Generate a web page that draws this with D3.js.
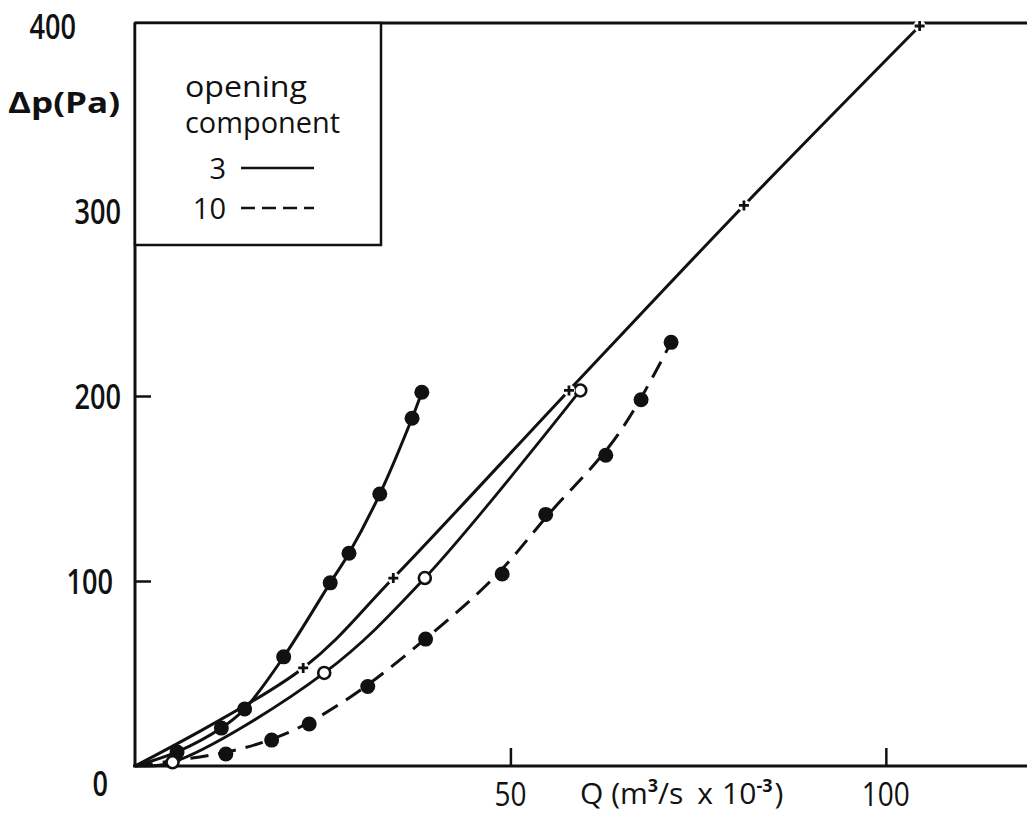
<!DOCTYPE html>
<html>
<head>
<meta charset="utf-8">
<script src="https://cdn.jsdelivr.net/npm/d3@7"></script>
<style>
  body { margin: 0; background: #fff; }
  text { font-family: "Open Sans", "DejaVu Sans", sans-serif; fill: #111; }
</style>
</head>
<body>
<svg></svg>
<script>
const width = 1027;
const height = 815;

// opening component 3, steep curve (filled dots)
const seriesA = [
  [5.6, 7.6], [11.5, 20.5], [14.6, 30.8], [19.8, 59], [26.0, 99],
  [28.5, 115], [32.6, 147], [36.9, 188], [38.2, 202]
];
// opening component 3, crosses
const seriesB = [
  [22.4, 53], [34.4, 101.6], [57.8, 203], [81.1, 303], [104.5, 400]
];
// opening component 3, open circles
const seriesC = [
  [5, 2], [25.2, 50.3], [38.6, 101.6], [59.3, 203]
];
// opening component 10, dashed (filled dots)
const seriesD = [
  [12.1, 6.5], [18.2, 14], [23.2, 22.7], [31.0, 43], [38.7, 68.6],
  [48.9, 103.8], [54.7, 136], [62.7, 168], [67.4, 198], [71.4, 229]
];

const xTicks = [50, 100];
const yTicks = [100, 200, 300];
const yLabels = ["0", "100", "200", "300", "400"];
const legendLabels = ["3", "10"];

const x = d3.scaleLinear().domain([0, 118.8]).range([135, 1027]);
const y = d3.scaleLinear().domain([0, 400]).range([766, 26]);

const svg = d3.select("svg")
    .attr("width", width)
    .attr("height", height);

const ink = "#111";

// frame
svg.append("line")
    .attr("x1", x(0)).attr("x2", width)
    .attr("y1", 23).attr("y2", 23)
    .attr("stroke", ink).attr("stroke-width", 3);
svg.append("line")
    .attr("x1", x(0)).attr("x2", x(0))
    .attr("y1", 23).attr("y2", y(0))
    .attr("stroke", ink).attr("stroke-width", 3);
svg.append("line")
    .attr("x1", x(0) - 2).attr("x2", width)
    .attr("y1", y(0)).attr("y2", y(0))
    .attr("stroke", ink).attr("stroke-width", 3);

// inward ticks
svg.append("g")
    .attr("transform", "translate(" + x(0) + ",0)")
    .call(d3.axisRight(y).tickValues(yTicks).tickSize(16).tickFormat(""))
    .call(g => g.select(".domain").remove())
    .call(g => g.selectAll("line").attr("stroke", ink).attr("stroke-width", 2.5));

svg.append("g")
    .attr("transform", "translate(0," + y(0) + ")")
    .call(d3.axisTop(x).tickValues(xTicks).tickSize(18).tickFormat(""))
    .call(g => g.select(".domain").remove())
    .call(g => g.selectAll("line").attr("stroke", ink).attr("stroke-width", 2.5));

// y labels (narrow, hand-lettered look)
const yLabelX = {"0": 108, "100": 113, "200": 121, "300": 121, "400": 76};
svg.selectAll(".ylab")
  .data(yLabels)
  .enter().append("text")
    .attr("class", "ylab")
    .attr("x", d => yLabelX[d])
    .attr("y", d => d === "0" ? 796 : y(+d) + 13)
    .attr("text-anchor", "end")
    .attr("font-size", 34)
    .attr("font-weight", 600)
    .attr("textLength", d => d.length * 15.5)
    .attr("lengthAdjust", "spacingAndGlyphs")
    .text(d => d);

svg.append("text")
    .attr("x", 8).attr("y", 113)
    .attr("font-size", 28).attr("font-weight", 700)
    .attr("textLength", 112).attr("lengthAdjust", "spacingAndGlyphs")
    .text("Δp(Pa)");

// x labels
svg.selectAll(".xlab")
  .data(xTicks)
  .enter().append("text")
    .attr("class", "xlab")
    .attr("x", d => x(d))
    .attr("y", 806)
    .attr("text-anchor", "middle")
    .attr("font-size", 32)
    .attr("textLength", d => String(d).length * 16)
    .attr("lengthAdjust", "spacingAndGlyphs")
    .text(d => d);

const qLabel = svg.append("text")
    .attr("x", 580).attr("y", 804)
    .attr("font-size", 30);
qLabel.append("tspan").text("Q (m");
qLabel.append("tspan").attr("font-size", 18).attr("font-weight", 700).attr("dy", -12).text("3");
qLabel.append("tspan").attr("dy", 12).text("/s");
qLabel.append("tspan").attr("dx", 14).text("x");
qLabel.append("tspan").attr("dx", 9).text("10");
qLabel.append("tspan").attr("font-size", 18).attr("font-weight", 700).attr("dy", -12).text("-3");
qLabel.append("tspan").attr("dy", 12).attr("dx", 2).text(")");

// legend box
svg.append("rect")
    .attr("x", x(0)).attr("y", 23)
    .attr("width", 246).attr("height", 222)
    .attr("fill", "#fff")
    .attr("stroke", ink).attr("stroke-width", 2.5);

svg.append("text").attr("x", 185).attr("y", 97)
    .attr("font-size", 29)
    .attr("textLength", 122).attr("lengthAdjust", "spacingAndGlyphs")
    .text("opening");
svg.append("text").attr("x", 185).attr("y", 133)
    .attr("font-size", 29)
    .attr("textLength", 155).attr("lengthAdjust", "spacingAndGlyphs")
    .text("component");

svg.selectAll(".leglab")
  .data(legendLabels)
  .enter().append("text")
    .attr("class", "leglab")
    .attr("x", 226)
    .attr("y", (d, i) => 179 + i * 40)
    .attr("text-anchor", "end")
    .attr("font-size", 29)
    .text(d => d);

svg.selectAll(".legline")
  .data(legendLabels)
  .enter().append("line")
    .attr("class", "legline")
    .attr("x1", 241).attr("x2", 314)
    .attr("y1", (d, i) => 168 + i * 40)
    .attr("y2", (d, i) => 168 + i * 40)
    .attr("stroke", ink).attr("stroke-width", 2.5)
    .attr("stroke-dasharray", (d, i) => i === 0 ? null : "14,7");

// curves
const line = d3.line()
    .x(d => x(d[0]))
    .y(d => y(d[1]))
    .curve(d3.curveCatmullRom.alpha(0.5));

const smooth = d3.line()
    .x(d => x(d[0]))
    .y(d => y(d[1]))
    .curve(d3.curveBasis);

const origin = [[0, 0]];

svg.append("path")
    .attr("d", line(origin.concat(seriesA)))
    .attr("fill", "none").attr("stroke", ink).attr("stroke-width", 3);

svg.append("path")
    .attr("d", line(origin.concat(seriesB)))
    .attr("fill", "none").attr("stroke", ink).attr("stroke-width", 3);

svg.append("path")
    .attr("d", line(origin.concat(seriesC)))
    .attr("fill", "none").attr("stroke", ink).attr("stroke-width", 2.8);

svg.append("path")
    .attr("d", smooth(origin.concat(seriesD)))
    .attr("fill", "none").attr("stroke", ink).attr("stroke-width", 3)
    .attr("stroke-dasharray", "18,10");

// markers
svg.selectAll(".dotA")
  .data(seriesA)
  .enter().append("circle")
    .attr("cx", d => x(d[0])).attr("cy", d => y(d[1]))
    .attr("r", 7.5).attr("fill", ink);

svg.selectAll(".dotD")
  .data(seriesD)
  .enter().append("circle")
    .attr("cx", d => x(d[0])).attr("cy", d => y(d[1]))
    .attr("r", 7.5).attr("fill", ink);

svg.selectAll(".openC")
  .data(seriesC)
  .enter().append("circle")
    .attr("cx", d => x(d[0])).attr("cy", d => y(d[1]))
    .attr("r", 6).attr("fill", "#fff")
    .attr("stroke", ink).attr("stroke-width", 2.6);

const cross = svg.selectAll(".crossB")
  .data(seriesB)
  .enter().append("g")
    .attr("transform", d => "translate(" + x(d[0]) + "," + y(d[1]) + ")");
cross.append("circle").attr("r", 6).attr("fill", "#fff");
cross.append("path")
    .attr("d", "M-5,0H5M0,-5V5")
    .attr("stroke", ink).attr("stroke-width", 2.8);
</script>
</body>
</html>
